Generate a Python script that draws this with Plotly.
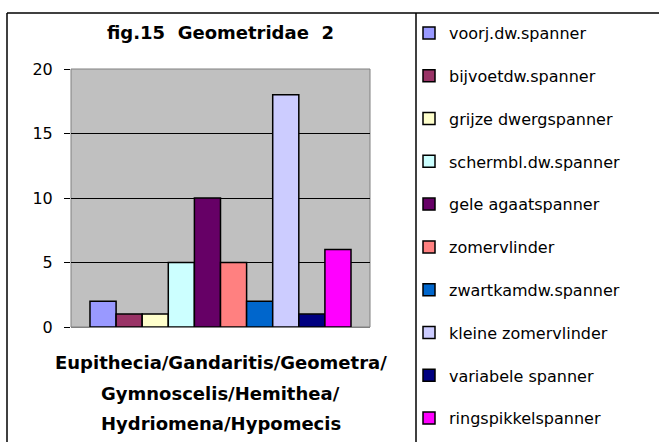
import plotly.graph_objects as go

# ---- data ----
category = ["Geometridae 2"]
species = [
    "voorj.dw.spanner",
    "bijvoetdw.spanner",
    "grijze dwergspanner",
    "schermbl.dw.spanner",
    "gele agaatspanner",
    "zomervlinder",
    "zwartkamdw.spanner",
    "kleine zomervlinder",
    "variabele spanner",
    "ringspikkelspanner",
]
counts = [2, 1, 1, 5, 10, 5, 2, 18, 1, 6]
colors = ["#9999FF", "#993366", "#FFFFCC", "#CCFFFF", "#660066",
          "#FF8080", "#0066CC", "#CCCCFF", "#000080", "#FF00FF"]
y_ticks = [0, 5, 10, 15, 20]
title_text = "fig.15  Geometridae  2"
xtitle_lines = ["Eupithecia/Gandaritis/Geometra/",
                "Gymnoscelis/Hemithea/",
                "Hydriomena/Hypomecis"]

# ---- layout geometry (pixels) ----
W, H = 659, 442
L, R, T, B = 71, 370, 69, 327  # plot area edges


def px_x(px):
    return (px - L) / (R - L)


def px_y(py):
    return (B - py) / (B - T)


FONT = "DejaVu Sans"

fig = go.Figure()
for i, (name, val, col) in enumerate(zip(species, counts, colors)):
    fig.add_trace(go.Bar(
        x=category, y=[val], name=name,
        marker=dict(color=col, line=dict(color="black", width=1.5)),
        legendgroup=f"g{i}",
    ))

fig.update_layout(
    width=W, height=H,
    margin=dict(l=L, r=W - R, t=T, b=H - B, pad=0, autoexpand=False),
    paper_bgcolor="white",
    plot_bgcolor="#C0C0C0",
    barmode="group",
    bargap=0.127,
    bargroupgap=0,
    showlegend=True,
    legend=dict(
        x=px_x(409), xanchor="left",
        y=px_y(16), yanchor="top",
        font=dict(family=FONT, size=16, color="black"),
        tracegroupgap=19,
        bgcolor="rgba(0,0,0,0)",
        borderwidth=0,
        traceorder="grouped",
        maxheight=H,
    ),
    font=dict(family=FONT, color="black"),
)

fig.update_xaxes(showticklabels=False, showgrid=False, showline=False,
                 ticks="", zeroline=False, automargin=False)
fig.update_yaxes(range=[0, 20], tickvals=y_ticks, ticks="outside",
                 ticklen=6, tickcolor="black", tickwidth=1,
                 ticklabelstandoff=8, automargin=False,
                 tickfont=dict(family=FONT, size=16, color="black"),
                 showgrid=True, gridcolor="black", gridwidth=1,
                 zeroline=True, zerolinecolor="#808080", zerolinewidth=1,
                 showline=False)

# plot-area border (gray)
fig.add_shape(type="rect", xref="paper", yref="paper", x0=0, x1=1, y0=0, y1=1,
              line=dict(color="#808080", width=1), layer="between")
# outer chart border (left & top) and divider to the legend
border = dict(color="black", width=1.5)
fig.add_shape(type="line", xref="paper", yref="paper",
              x0=px_x(7), x1=px_x(7), y0=px_y(13), y1=px_y(460), line=border)
fig.add_shape(type="line", xref="paper", yref="paper",
              x0=px_x(7), x1=px_x(680), y0=px_y(13), y1=px_y(13), line=border)
fig.add_shape(type="line", xref="paper", yref="paper",
              x0=px_x(416), x1=px_x(416), y0=px_y(13), y1=px_y(460), line=border)

# title
fig.add_annotation(text=f"<b>{title_text}</b>", xref="paper", yref="paper",
                   x=0.5, y=px_y(33), xanchor="center", yanchor="middle",
                   showarrow=False, font=dict(family=FONT, size=18, color="black"))
# x axis title, one annotation per line
for line, py in zip(xtitle_lines, [362, 393, 423]):
    fig.add_annotation(text=f"<b>{line}</b>", xref="paper", yref="paper",
                       x=0.5, y=px_y(py), xanchor="center", yanchor="middle",
                       showarrow=False,
                       font=dict(family=FONT, size=18, color="black"))

fig.write_html("out.html",
               config={"displayModeBar": False},
               post_script="document.body.style.margin='0';"
                           "document.body.style.overflow='hidden';")
